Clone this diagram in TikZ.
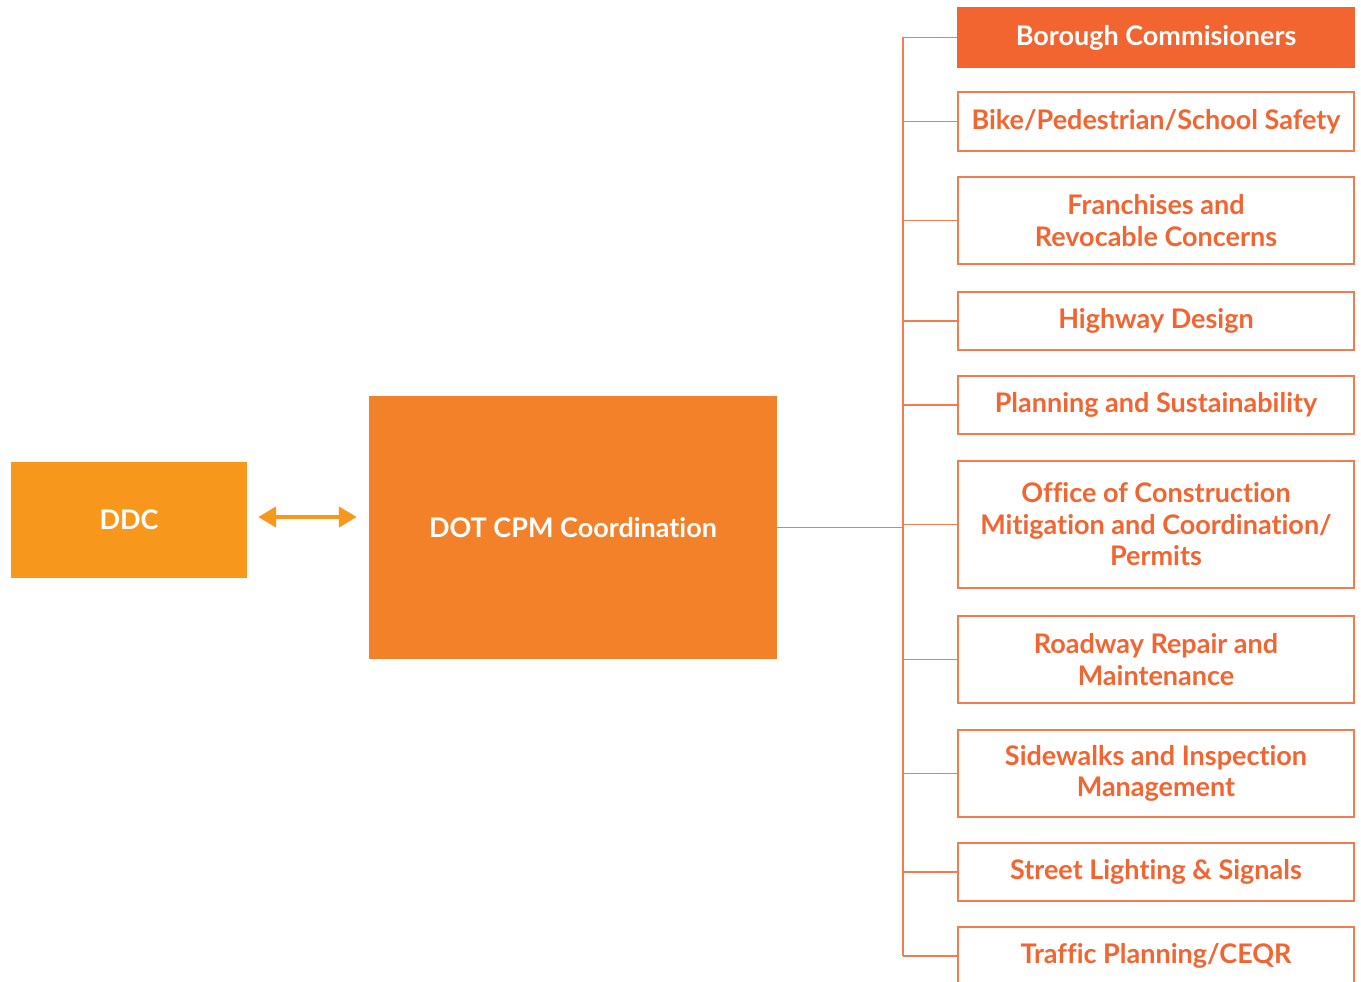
\documentclass[tikz,border=0pt]{standalone}
\usepackage{fontspec}
\setmainfont{Lato}[BoldFont={Lato Bold}, Ligatures=CommonOff]
\usepackage{tikz}
\usetikzlibrary{positioning, calc, arrows.meta}
\usepackage{xcolor}
\definecolor{ddcorange}{HTML}{F7981D}
\definecolor{dotorange}{HTML}{F2812A}
\definecolor{unitred}{HTML}{F26531}
\definecolor{unitline}{HTML}{F47B4E}

\begin{document}
\begin{tikzpicture}[x=1pt, y=-1pt,
    every node/.style={font=\bfseries\fontsize{27}{31.5}\selectfont, align=center, inner sep=0pt},
    bigbox/.style={fill=#1, text=white},
    unitbox/.style={draw=unitline, line width=1.5pt, fill=white, text=unitred, minimum width=396pt},
    link/.style={draw=unitline, line width=1.2pt}]
    \useasboundingbox (0,0) rectangle (1361,982);

    % Left side
    \node[bigbox=ddcorange, minimum width=236pt, minimum height=116pt] (ddc) at (129,520) {DDC};
    \node[bigbox=dotorange, minimum width=408pt, minimum height=263pt] (dot) at (573,527.5) {DOT CPM Coordination};

    % Two-way arrow
    \draw[{Triangle[length=18pt,width=20pt]}-{Triangle[length=18pt,width=20pt]}, ddcorange, line width=4.5pt]
        ([xshift=11pt,yshift=3pt]ddc.east) -- ([xshift=-12pt,yshift=3pt]ddc.east -| dot.west);

    % Units
    \node[unitbox, fill=unitred, draw=unitred, text=white, minimum height=59pt] (u1) at (1156,37.5) {Borough Commisioners};
    \node[unitbox, minimum height=59pt] (u2) at (1156,121.5) {Bike/Pedestrian/School Safety};
    \node[unitbox, minimum height=87pt] (u3) at (1156,220.5) {Franchises and\\Revocable Concerns};
    \node[unitbox, minimum height=58pt] (u4) at (1156,321) {Highway Design};
    \node[unitbox, minimum height=58pt] (u5) at (1156,405) {Planning and Sustainability};
    \node[unitbox, minimum height=127pt] (u6) at (1156,524.5) {Office of Construction\\Mitigation and Coordination/\\Permits};
    \node[unitbox, minimum height=87pt] (u7) at (1156,659.5) {Roadway Repair and\\Maintenance};
    \node[unitbox, minimum height=87pt] (u8) at (1156,773.5) {Sidewalks and Inspection\\Management};
    \node[unitbox, minimum height=58pt] (u9) at (1156,872) {Street Lighting \& Signals};
    \node[unitbox, minimum height=58pt] (u10) at (1156,956) {Traffic Planning/CEQR};

    % Tree lines
    \coordinate (trunk) at (903,0);
    \draw[link] (trunk |- u1.west) -- (trunk |- u10.west);
    \foreach \u in {u1,u2,u3,u4,u5,u6,u7,u8,u9,u10}
        \draw[link] (\u.west) -- (trunk |- \u.west);
    \draw[link] (dot.east) -- (trunk |- dot.east);
\end{tikzpicture}
\end{document}
